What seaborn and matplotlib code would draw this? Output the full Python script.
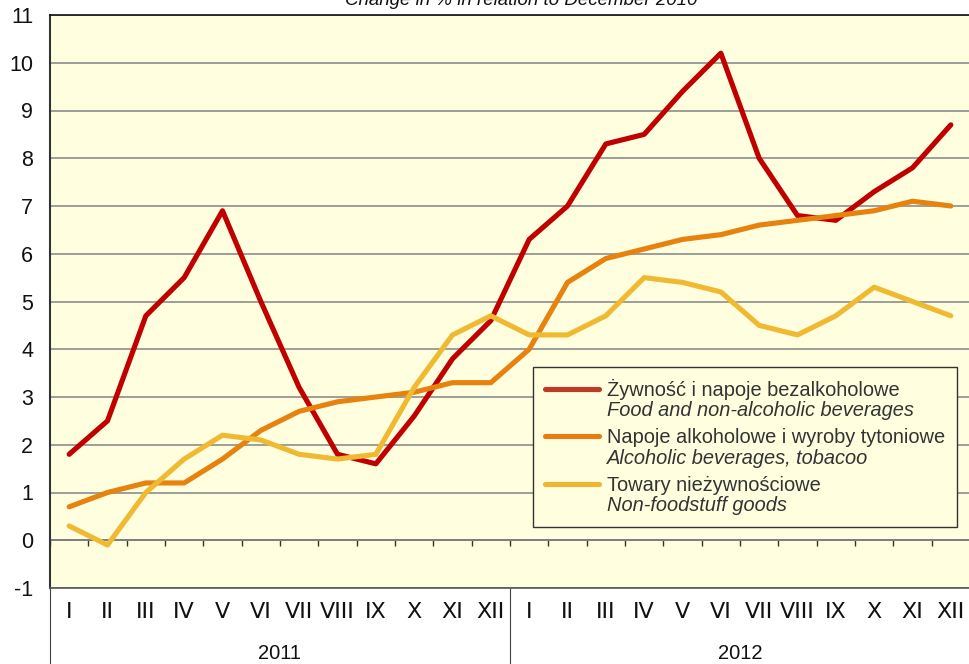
import pandas as pd
import matplotlib.pyplot as plt
import seaborn as sns
from matplotlib.offsetbox import TextArea, VPacker

# data (change in % vs December 2010)
months = ['I', 'II', 'III', 'IV', 'V', 'VI', 'VII', 'VIII', 'IX', 'X', 'XI', 'XII']
years = ['2011', '2012']
food = [1.8, 2.5, 4.7, 5.5, 6.9, 5.0, 3.2, 1.8, 1.6, 2.6, 3.8, 4.6,
        6.3, 7.0, 8.3, 8.5, 9.4, 10.2, 8.0, 6.8, 6.7, 7.3, 7.8, 8.7]
alcohol = [0.7, 1.0, 1.2, 1.2, 1.7, 2.3, 2.7, 2.9, 3.0, 3.1, 3.3, 3.3,
           4.0, 5.4, 5.9, 6.1, 6.3, 6.4, 6.6, 6.7, 6.8, 6.9, 7.1, 7.0]
nonfood = [0.3, -0.1, 1.0, 1.7, 2.2, 2.1, 1.8, 1.7, 1.8, 3.2, 4.3, 4.7,
           4.3, 4.3, 4.7, 5.5, 5.4, 5.2, 4.5, 4.3, 4.7, 5.3, 5.0, 4.7]
labels_pl = ['Żywność i napoje bezalkoholowe',
             'Napoje alkoholowe i wyroby tytoniowe',
             'Towary nieżywnościowe']
labels_en = ['Food and non-alcoholic beverages',
             'Alcoholic beverages, tobacoo',
             'Non-foodstuff goods']
colors = ['#C00000', '#E8820E', '#F0B932']
legend_colors = ['#BE3A26', '#E87C14', '#F0B530']
title = 'Change in % in relation to December 2010'

sns.set_style('white')
plt.rcParams['font.family'] = ['Liberation Sans', 'DejaVu Sans']

# long form table
n = len(months) * len(years)
rows = []
for name, vals in zip(labels_pl, [food, alcohol, nonfood]):
    for i, v in enumerate(vals):
        rows.append({'idx': i, 'value': v, 'series': name})
df = pd.DataFrame(rows)

fig = plt.figure(figsize=(9.7, 6.64), dpi=100)
ax = fig.add_axes([50 / 970, 76 / 664, 920 / 970, 573 / 664])
bg = '#FFFFE0'
ax.set_facecolor(bg)

sns.lineplot(data=df, x='idx', y='value', hue='series', palette=colors,
             linewidth=3.7, ax=ax, legend=False, solid_capstyle='round', zorder=3)

ax.set_xlim(-0.5, n - 0.5)
ax.set_ylim(-1, 11)
ax.set_xlabel('')
ax.set_ylabel('')

# y axis
ax.set_yticks(range(-1, 12))
ax.set_yticklabels([str(v) for v in range(-1, 12)], fontsize=15.5, color='#111111')
ax.yaxis.grid(True, color='#8E8E8E', linewidth=1.2, zorder=1)
ax.tick_params(axis='y', direction='in', length=5, width=1.2, color='#333333', pad=12)
ax.spines['left'].set_color('#333333')
ax.spines['left'].set_linewidth(1.5)
ax.spines['top'].set_color('#111111')
ax.spines['top'].set_linewidth(1.2)
ax.spines['bottom'].set_color('#555555')
ax.spines['bottom'].set_linewidth(1.2)
ax.spines['right'].set_visible(False)

# month row of the category table
bounds = [i - 0.5 for i in range(n + 1)]
ax.set_xticks(bounds)
ax.set_xticklabels([''] * len(bounds))
ax.set_xticks(range(n), minor=True)
ax.set_xticklabels(months * len(years), minor=True,
                   family=['Liberation Sans Narrow', 'DejaVu Sans'], fontsize=16)
ax.tick_params(axis='x', which='major', direction='out', length=28.8, width=0.8, color='#444444')
ax.tick_params(axis='x', which='minor', length=0, pad=10, labelcolor='#111111')

# year row
sec = ax.secondary_xaxis('bottom')
sec.set_xticks([-0.5, 11.5, n - 0.5])
sec.set_xticklabels(['', '', ''])
sec.set_xticks([5.5, 17.5], minor=True)
sec.set_xticklabels(years, minor=True, fontsize=14.5, color='#111111')
sec.tick_params(axis='x', which='major', direction='out', length=54.7, width=0.8, color='#444444')
sec.tick_params(axis='x', which='minor', length=0, pad=40)
sec.spines['bottom'].set_visible(False)

# zero axis line with small ticks
zero = ax.secondary_xaxis(1 / 12)
zero.set_xticks(bounds)
zero.set_xticklabels([''] * len(bounds))
zero.tick_params(axis='x', direction='out', length=4.3, width=1.0, color='#333333')
zero.spines['bottom'].set_color('#333333')
zero.spines['bottom'].set_linewidth(1.4)

# legend with two-line labels, second line italic
fs = 14.4
handles = ax.get_lines()[:3]
leg = ax.legend(handles, labels_pl, loc='upper left', bbox_to_anchor=(0.525, 0.386),
                borderaxespad=0, frameon=True, fancybox=False, edgecolor='#333333',
                facecolor=bg, framealpha=1, handlelength=2.7, handletextpad=0.4,
                labelspacing=0.4, borderpad=0.6, fontsize=fs)
leg.get_frame().set_linewidth(1.0)
for h, c in zip(leg.legend_handles, legend_colors):
    h.set_color(c)
tp = dict(color='#333333', fontsize=fs)
k = 0
for col in leg._legend_handle_box.get_children():
    for item in col.get_children():
        box = VPacker(children=[TextArea(labels_pl[k], textprops=tp),
                                TextArea(labels_en[k], textprops=dict(tp, style='italic'))],
                      align='left', pad=0, sep=1)
        item._children[1] = box
        k += 1
leg._legend_box.set_figure(fig)

fig.text(521 / 970, 1 - 5 / 664, title, ha='center', va='baseline',
         fontsize=13.5, style='italic', color='#111111')

fig.savefig('out.png', dpi=100)
